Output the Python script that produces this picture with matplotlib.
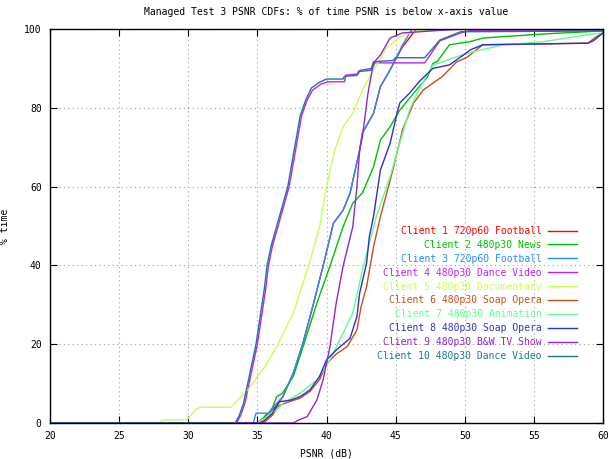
import matplotlib
matplotlib.use("Agg")
import matplotlib.pyplot as plt

# CDF curves (PSNR dB, % time)
c1_x = [20, 35.2, 35.6, 36.0, 36.4, 36.85, 37.6, 38.3, 39.0, 39.75, 40.5, 41.2, 41.7, 42.4, 42.6, 43.4, 43.9, 44.6, 45.5, 46.5, 60]
c1_y = [0, 0, 2, 3, 4.5, 6.7, 12.7, 20.3, 29.5, 39.8, 50.7, 54, 58.3, 69.3, 73.6, 78.6, 85.4, 89.6, 95.5, 100, 100]

c2_x = [20, 35.0, 35.5, 36.0, 36.4, 36.8, 37.6, 38.3, 39.3, 40.25, 41.2, 41.9, 42.6, 43.4, 43.9, 44.6, 45.3, 46.3, 47.3, 47.7, 48.0, 48.9, 50.4, 51.3, 52.5, 56, 60]
c2_y = [0, 0, 1.5, 3, 6.7, 7.5, 11.8, 19.3, 30.4, 39.8, 49.8, 55.8, 58.4, 65, 71.8, 75.2, 79.4, 83.7, 87.8, 91.3, 91.7, 96, 96.8, 97.7, 98, 98.8, 99.5]

c3_x = [20, 34.7, 34.9, 35.8, 36.0, 36.4, 36.85, 37.6, 38.3, 39.0, 39.75, 40.5, 41.2, 41.7, 42.4, 42.6, 43.4, 43.9, 44.6, 45.5, 46.2, 60]
c3_y = [0, 0, 2.5, 2.5, 3.5, 5, 6.7, 12.7, 20.3, 29.5, 39.8, 50.7, 54, 58.3, 69.3, 73.6, 78.6, 85.4, 89.6, 96, 100, 100]

c4_x = [20, 33.5, 33.8, 34.1, 34.4, 34.7, 35.0, 35.3, 35.6, 35.8, 36.1, 36.5, 36.9, 37.3, 37.6, 37.9, 38.2, 38.6, 39.0, 39.6, 40.1, 41.3, 41.4, 42.3, 42.4, 43.3, 43.5, 47.1, 48.2, 49.7, 50.5, 60]
c4_y = [0, 0, 2, 5, 10, 15, 20, 27, 34, 40, 45, 50, 55, 60, 66, 72, 78, 82, 84.5, 86, 86.6, 86.6, 88.3, 88.6, 89.5, 90, 91.4, 91.4, 97, 99, 99.7, 99.7]

c5_x = [20, 28.0, 28.1, 29.9, 30.2, 30.5, 30.85, 33.1, 34.5, 35.0, 35.55, 36.4, 37.6, 38.7, 39.5, 40.0, 40.6, 41.2, 41.9, 42.6, 43.4, 44.35, 45.3, 46.3, 48.6, 60]
c5_y = [0, 0, 0.8, 0.8, 2, 3.3, 4, 4, 9.2, 11.8, 14.3, 19.4, 27.9, 39.8, 49.8, 60, 69.3, 75.2, 78.6, 84.5, 89.6, 95.2, 98, 99.3, 100, 100]

c6_x = [20, 35.3, 35.6, 36.1, 36.6, 37.4, 38.1, 38.8, 39.5, 40.0, 40.7, 41.5, 42.2, 42.5, 42.9, 43.4, 43.9, 44.8, 45.5, 46.3, 47.0, 48.4, 49.4, 50.2, 51.3, 58.9, 59.5, 60]
c6_y = [0, 0, 0.5, 2, 4.5, 5.5, 6.3, 8, 11, 15, 17.5, 19.4, 23.6, 29.5, 34.6, 44.7, 52.4, 64.2, 74.4, 81.2, 84.5, 88, 91.6, 92.9, 96, 96.4, 98, 99]

c7_x = [20, 35.0, 35.7, 36.3, 36.85, 38.1, 39.3, 40.25, 41.2, 41.9, 42.6, 43.6, 44.6, 45.3, 46.0, 46.8, 47.7, 48.2, 49.1, 50.6, 52.8, 55.7, 58.8, 60]
c7_y = [0, 0, 1.6, 3, 5, 7.6, 10.9, 16, 22.8, 27.9, 38.8, 52.4, 62.5, 71, 79.4, 85.4, 90.9, 91.4, 92.6, 94.2, 96, 96.8, 98.5, 99]

c8_x = [20, 35.2, 35.4, 36.1, 36.6, 37.4, 38.1, 38.8, 39.5, 40.0, 40.7, 41.7, 42.2, 42.4, 42.6, 42.9, 43.1, 43.4, 43.9, 44.6, 45.1, 45.3, 46.0, 46.8, 47.7, 48.9, 49.9, 50.4, 51.3, 58.9, 59.3, 60]
c8_y = [0, 0, 0.3, 2.5, 5.4, 5.8, 6.7, 8.4, 11.8, 16, 18.5, 21.5, 27, 33, 36, 40.6, 47.3, 52.4, 64.2, 71, 78.6, 81.2, 83.7, 87, 90, 90.9, 93.4, 94.7, 96, 96.4, 97, 99]

c9_x = [20, 37.6, 38.0, 38.6, 39.3, 39.75, 40.25, 40.7, 41.2, 41.9, 42.2, 42.4, 42.6, 43.0, 43.4, 43.9, 44.6, 45.5, 48.4, 50.0, 60]
c9_y = [0, 0, 0.8, 1.6, 5.8, 10.9, 19.4, 30.4, 39.8, 49.8, 60, 69.3, 72.7, 83.7, 91.4, 93.4, 97.7, 99, 99.7, 100, 100]

c10_x = [20, 33.4, 33.7, 34.0, 34.3, 34.6, 34.9, 35.2, 35.5, 35.7, 36.0, 36.4, 36.8, 37.2, 37.5, 37.8, 38.1, 38.5, 38.9, 39.5, 40.0, 41.2, 41.3, 42.2, 42.3, 43.2, 43.4, 44.8, 45.0, 47.1, 48.2, 49.7, 60]
c10_y = [0, 0, 2, 5, 10, 15, 20, 27, 34, 40, 45, 50, 55, 60, 66, 72, 78, 82, 85, 86.5, 87.3, 87.3, 88, 88.2, 89.2, 89.5, 91.7, 92, 92.7, 92.7, 97.2, 99.3, 99.5]

labels = ["Client 1 720p60 Football", "Client 2 480p30 News", "Client 3 720p60 Football",
          "Client 4 480p30 Dance Video", "Client 5 480p30 Documentary", "Client 6 480p30 Soap Opera",
          "Client 7 480p30 Animation", "Client 8 480p30 Soap Opera", "Client 9 480p30 B&W TV Show",
          "Client 10 480p30 Dance Video"]
colors = ["#ff0000", "#00c000", "#2090ff", "#c020ff", "#c8ff50",
          "#c85018", "#60ff90", "#3030c8", "#9028d0", "#207890"]

xs = [c1_x, c2_x, c3_x, c4_x, c5_x, c6_x, c7_x, c8_x, c9_x, c10_x]
ys = [c1_y, c2_y, c3_y, c4_y, c5_y, c6_y, c7_y, c8_y, c9_y, c10_y]

plt.rcParams['font.family'] = ['DejaVu Sans Mono']
plt.rcParams['font.size'] = 7

fig = plt.figure(figsize=(6.15, 4.59), dpi=100)
ax = fig.add_axes([50 / 615, 1 - 423 / 459, 553 / 615, 394 / 459])

for x, y, lab, col in zip(xs, ys, labels, colors):
    ax.plot(x, y, color=col, lw=1.0, label=lab)

ax.set_xlim(20, 60)
ax.set_ylim(0, 100)
ax.set_xticks(range(20, 61, 5))
ax.set_yticks(range(0, 101, 20))
ax.grid(True, color="#a0a0a0", linestyle=(0, (1, 3)), lw=0.8)
ax.tick_params(direction="in", length=5, top=True, right=True, colors="black", labelsize=7, pad=6)
for sp in ax.spines.values():
    sp.set_linewidth(1.0)

ax.set_xlabel("PSNR (dB)", fontsize=7, labelpad=5)
ax.set_ylabel("% time", fontsize=7, labelpad=10)
ax.set_title("Managed Test 3 PSNR CDFs: % of time PSNR is below x-axis value", fontsize=7, pad=10)

leg = ax.legend(loc="upper right", bbox_to_anchor=(0.96, 0.51), frameon=False, markerfirst=False,
                labelcolor="linecolor", handlelength=3.0, handletextpad=0.6, labelspacing=0.4,
                fontsize=7, borderaxespad=0)

fig.savefig("out.png", dpi=100)
